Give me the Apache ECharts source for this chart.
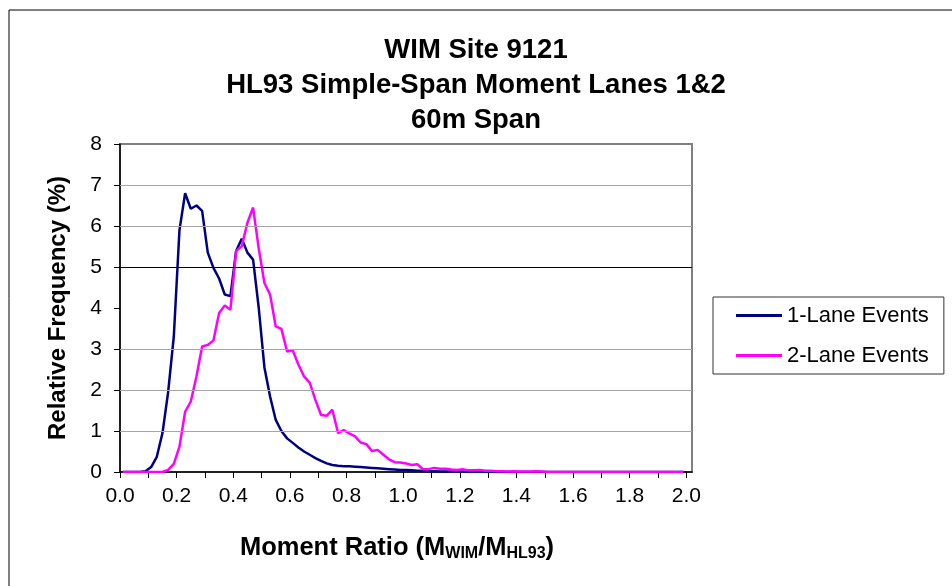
<!DOCTYPE html>
<html>
<head>
<meta charset="utf-8">
<script src="https://cdn.jsdelivr.net/npm/echarts@6/dist/echarts.min.js"></script>
<style>
html,body{margin:0;padding:0;background:#fff;}
#chart{width:952px;height:586px;}
</style>
</head>
<body>
<div id="chart"></div>
<script>
// ---- data ----
const ratioBins = [0.01,0.03,0.05,0.07,0.09,0.11,0.13,0.15,0.17,0.19,
  0.21,0.23,0.25,0.27,0.29,0.31,0.33,0.35,0.37,0.39,
  0.41,0.43,0.45,0.47,0.49,0.51,0.53,0.55,0.57,0.59,
  0.61,0.63,0.65,0.67,0.69,0.71,0.73,0.75,0.77,0.79,
  0.81,0.83,0.85,0.87,0.89,0.91,0.93,0.95,0.97,0.99,
  1.01,1.03,1.05,1.07,1.09,1.11,1.13,1.15,1.17,1.19,
  1.21,1.23,1.25,1.27,1.29,1.31,1.33,1.35,1.37,1.39,
  1.41,1.43,1.45,1.47,1.49,1.51,1.53,1.55,1.57,1.59,
  1.61,1.63,1.65,1.67,1.69,1.71,1.73,1.75,1.77,1.79,
  1.81,1.83,1.85,1.87,1.89,1.91,1.93,1.95,1.97,1.99];

const oneLane = [0,0,0,0,0.02,0.12,0.37,0.95,1.95,3.3,
  5.9,6.8,6.42,6.5,6.37,5.35,4.98,4.72,4.33,4.29,
  5.39,5.69,5.35,5.18,4.0,2.55,1.84,1.27,1.0,0.82,
  0.71,0.6,0.5,0.42,0.34,0.27,0.21,0.17,0.15,0.14,
  0.14,0.13,0.12,0.11,0.10,0.09,0.08,0.07,0.06,0.05,
  0.05,0.04,0.03,0.03,0.02,0.02,0.01,0.01,0.01,0.01,
  0.01,0,0,0,0,0,0,0,0,0,
  0,0,0,0,0,0,0,0,0,0,
  0,0,0,0,0,0,0,0,0,0,
  0,0,0,0,0,0,0,0,0,0];

const twoLane = [0,0,0,0,0,0,0,0,0.05,0.2,
  0.62,1.47,1.72,2.33,3.06,3.1,3.21,3.88,4.06,3.96,
  5.39,5.51,6.08,6.45,5.45,4.61,4.33,3.55,3.49,2.94,
  2.97,2.62,2.33,2.18,1.76,1.39,1.37,1.52,0.95,1.02,
  0.94,0.87,0.72,0.68,0.51,0.54,0.42,0.31,0.24,0.23,
  0.21,0.17,0.19,0.07,0.07,0.10,0.08,0.08,0.06,0.05,
  0.07,0.04,0.04,0.05,0.03,0.03,0.02,0.02,0.01,0.02,
  0.01,0.01,0.01,0.02,0.01,0,0,0,0,0,
  0,0,0,0,0,0,0,0,0,0,
  0,0,0,0,0,0,0,0,0,0];

const seriesNames = ['1-Lane Events', '2-Lane Events'];
const xTickValues = [0,0.1,0.2,0.3,0.4,0.5,0.6,0.7,0.8,0.9,1.0,1.1,1.2,1.3,1.4,1.5,1.6,1.7,1.8,1.9,2.0];
const xLabelValues = [0,0.2,0.4,0.6,0.8,1.0,1.2,1.4,1.6,1.8,2.0];
const greyGridLevels = [1,2,3,6,7];
const darkGridLevels = [5];
const titleLines = ['WIM Site 9121', 'HL93 Simple-Span Moment Lanes 1&2', '60m Span'];

// ---- chart ----
const chart = echarts.init(document.getElementById('chart'), null, {renderer: 'canvas'});
const FONT = '"Liberation Sans", Arial, sans-serif';

const gridLines = greyGridLevels.map(v => ({yAxis: v, lineStyle: {color: '#a6a6a6', width: 1, type: 'solid'}}))
  .concat(darkGridLevels.map(v => ({yAxis: v, lineStyle: {color: '#000', width: 1, type: 'solid'}})));

chart.setOption({
  animation: false,
  backgroundColor: '#fff',
  textStyle: {fontFamily: FONT},
  title: {
    text: titleLines.join('\n'),
    left: 'center',
    top: 28,
    textStyle: {fontFamily: FONT, fontSize: 27.5, fontWeight: 'bold', color: '#000', lineHeight: 35}
  },
  legend: {
    data: seriesNames,
    orient: 'vertical',
    left: 713,
    top: 297,
    padding: [7, 15, 7, 23],
    icon: 'rect',
    itemWidth: 46,
    itemHeight: 3,
    itemGap: 17,
    borderColor: '#333',
    borderWidth: 1,
    textStyle: {fontFamily: FONT, fontSize: 22, color: '#000', lineHeight: 23}
  },
  grid: {
    left: 120, top: 144, width: 572, height: 328,
    show: true, borderColor: '#808080', borderWidth: 2, backgroundColor: '#fff'
  },
  xAxis: {
    type: 'value',
    min: 0, max: 2.02, interval: 0.1,
    name: '{b|Moment Ratio (M}{s|WIM}{b|/M}{s|HL93}{b|)}',
    nameLocation: 'middle',
    nameGap: 62,
    nameTextStyle: {
      padding: [0, 18, 0, 0],
      rich: {
        b: {fontFamily: FONT, fontSize: 25.5, fontWeight: 'bold', color: '#000'},
        s: {fontFamily: FONT, fontSize: 16, fontWeight: 'bold', color: '#000', padding: [12, 0, 0, 0]}
      }
    },
    axisLine: {show: true, onZero: false, lineStyle: {color: '#000', width: 1.5}},
    axisTick: {show: true, inside: false, length: 6, customValues: xTickValues, lineStyle: {color: '#000', width: 1}},
    axisLabel: {
      customValues: xLabelValues,
      formatter: v => v.toFixed(1),
      fontFamily: FONT, fontSize: 21, color: '#000', margin: 14
    },
    splitLine: {show: false}
  },
  yAxis: {
    type: 'value',
    min: 0, max: 8, interval: 1,
    name: 'Relative Frequency (%)',
    nameLocation: 'middle',
    nameGap: 50,
    nameTextStyle: {fontFamily: FONT, fontSize: 24, fontWeight: 'bold', color: '#000'},
    axisLine: {show: true, lineStyle: {color: '#000', width: 1.5}},
    axisTick: {show: true, inside: false, length: 6, lineStyle: {color: '#000', width: 1}},
    axisLabel: {fontFamily: FONT, fontSize: 21, color: '#000', margin: 18},
    splitLine: {show: false}
  },
  graphic: [{
    type: 'rect',
    shape: {x: 9, y: 10, width: 1200, height: 1000},
    style: {fill: 'none', stroke: '#000', lineWidth: 1},
    silent: true,
    z: 100
  }],
  series: [
    {
      name: 'gridlines', type: 'line', data: [], silent: true, z: 1,
      markLine: {silent: true, symbol: 'none', label: {show: false}, animation: false, data: gridLines}
    },
    {
      name: seriesNames[0], type: 'line',
      data: ratioBins.map((x, i) => [x, oneLane[i]]),
      showSymbol: false, symbol: 'none', z: 3,
      lineStyle: {color: '#000080', width: 2.5},
      itemStyle: {color: '#000080'}
    },
    {
      name: seriesNames[1], type: 'line',
      data: ratioBins.map((x, i) => [x, twoLane[i]]),
      showSymbol: false, symbol: 'none', z: 4,
      lineStyle: {color: '#ff00ff', width: 2.5},
      itemStyle: {color: '#ff00ff'}
    }
  ]
});
</script>
</body>
</html>
